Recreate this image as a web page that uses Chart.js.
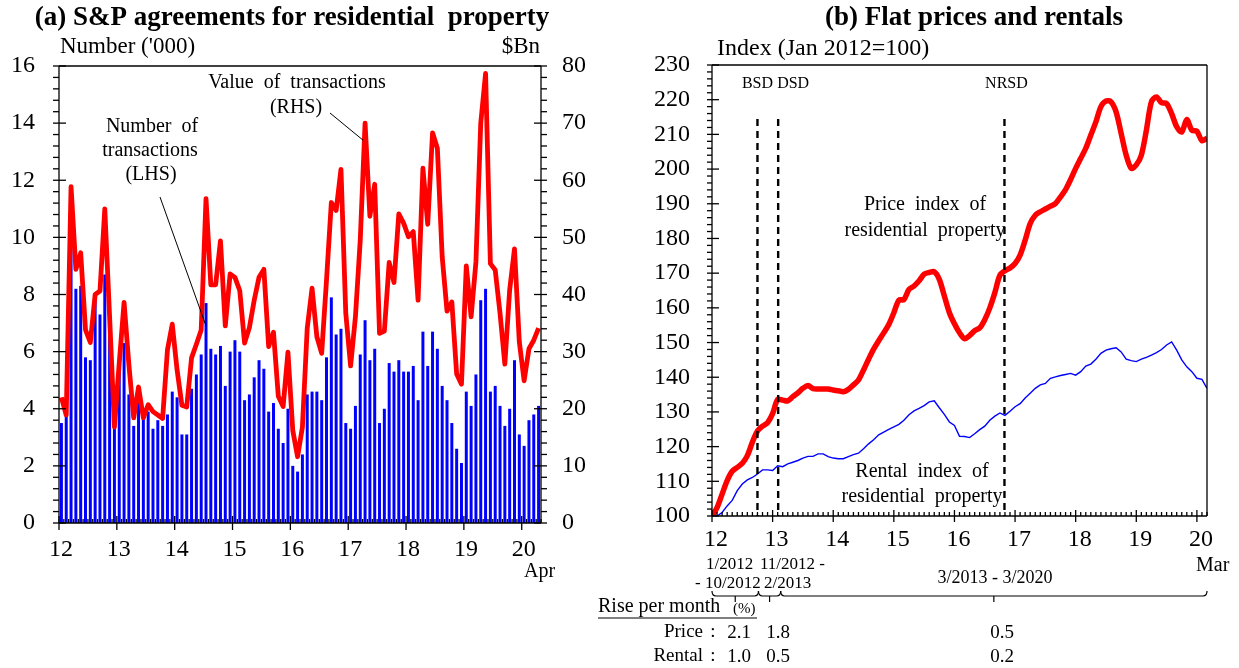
<!DOCTYPE html>
<html>
<head>
<meta charset="utf-8">
<title>S&amp;P agreements, flat prices and rentals</title>
<script src="https://cdn.jsdelivr.net/npm/chart.js@4.4.1/dist/chart.umd.min.js"></script>
<style>
  body { margin: 0; background: #fff; }
  #wrap { position: relative; width: 1239px; height: 668px; overflow: hidden; }
  canvas { position: absolute; top: 0; }
  #panelA { left: 0; }
  #panelB { left: 590px; }
</style>
</head>
<body>
<div id="wrap">
  <canvas id="panelA" width="620" height="668"></canvas>
  <canvas id="panelB" width="649" height="668"></canvas>
</div>
<script>
const serif = '"Liberation Serif", "Times New Roman", serif';

// (a) monthly, Jan 2012 - Apr 2020
const yearLabels = ["12", "13", "14", "15", "16", "17", "18", "19", "20"];
// number of transactions ('000, LHS)
const numberOfTransactions = [
  3.5, 3.8, 9.9, 8.2, 8.3, 5.8, 5.7, 8.0, 7.3, 8.7,
  7.0, 3.3, 5.5, 6.3, 4.5, 3.4, 4.2, 4.0, 3.9, 3.3,
  3.6, 3.4, 3.8, 4.6, 4.4, 3.1, 3.1, 4.7, 5.2, 5.9,
  7.7, 6.1, 5.9, 6.2, 4.8, 6.0, 6.4, 6.0, 4.3, 4.5,
  5.1, 5.7, 5.4, 3.9, 4.2, 3.3, 2.8, 4.0, 2.0, 1.8,
  2.4, 4.5, 4.6, 4.6, 4.3, 5.8, 7.9, 6.6, 6.8, 3.5,
  3.3, 4.1, 5.9, 7.1, 5.7, 6.1, 3.5, 4.0, 5.6, 5.3,
  5.7, 5.3, 5.3, 5.5, 4.3, 6.7, 5.5, 6.7, 6.1, 4.8,
  4.3, 3.5, 2.6, 2.1, 4.6, 4.1, 5.2, 7.8, 8.2, 4.6,
  4.8, 4.1, 3.4, 4.0, 5.7, 3.1, 2.7, 3.6, 3.8, 4.1
];
// value of transactions ($Bn, RHS)
const valueOfTransactions = [
  22.0, 18.9, 58.9, 44.4, 47.3, 33.8, 31.6, 40.0, 40.6, 55.0,
  36.1, 16.8, 28.0, 38.6, 27.7, 18.4, 23.8, 18.4, 20.7, 19.5,
  18.9, 18.3, 30.3, 34.8, 26.8, 20.6, 20.3, 28.9, 31.3, 33.8,
  56.8, 41.7, 41.7, 49.4, 34.5, 43.6, 43.0, 40.7, 31.5, 34.2,
  39.0, 43.0, 44.4, 30.9, 33.4, 22.2, 20.4, 29.9, 16.2, 11.6,
  16.8, 34.1, 41.1, 32.6, 29.7, 42.5, 56.1, 54.7, 61.9, 36.7,
  27.5, 36.1, 49.5, 70.0, 53.7, 59.3, 33.2, 33.6, 45.6, 42.1,
  54.1, 52.5, 50.1, 51.0, 39.0, 62.1, 52.3, 68.3, 65.6, 46.6,
  37.1, 38.7, 26.1, 24.3, 45.0, 36.1, 45.7, 70.0, 78.7, 45.4,
  44.3, 36.7, 27.8, 40.8, 48.0, 31.7, 24.9, 30.5, 32.0, 34.1
];

// (b) monthly, Jan 2012 - Mar 2020 (Jan 2012 = 100)
const priceIndex = [
  100.0, 102.4, 106.3, 110.2, 112.9, 114.0, 115.2, 117.4, 121.3, 124.5,
  125.9, 126.9, 129.5, 133.6, 133.4, 133.2, 134.4, 135.5, 136.8, 137.6,
  136.7, 136.6, 136.6, 136.6, 136.3, 136.1, 135.8, 136.5, 137.8, 139.2,
  142.1, 145.2, 148.1, 150.5, 152.8, 155.2, 158.6, 162.2, 162.4, 165.3,
  166.3, 167.8, 169.7, 170.2, 170.4, 168.2, 163.4, 158.6, 155.4, 152.8,
  151.1, 152.0, 153.4, 154.2, 156.6, 160.0, 164.4, 169.4, 170.7, 171.5,
  172.8, 175.2, 179.5, 184.3, 186.7, 187.7, 188.5, 189.3, 190.1, 192.0,
  194.1, 197.0, 200.2, 203.1, 206.0, 209.8, 213.6, 218.0, 219.6, 219.4,
  216.5, 210.3, 204.0, 200.2, 201.2, 204.0, 211.2, 219.4, 220.8, 219.1,
  218.9, 216.0, 212.2, 210.7, 214.3, 211.2, 210.9, 208.2, 208.9
];
const rentalIndex = [
  100.0, 100.0, 101.0, 102.9, 104.5, 107.3, 109.2, 110.4, 111.1, 112.1,
  113.3, 113.3, 113.1, 114.5, 114.2, 115.0, 115.5, 116.0, 116.7, 117.2,
  117.2, 117.9, 117.9, 117.1, 116.7, 116.5, 116.5, 117.1, 117.7, 118.1,
  119.4, 120.8, 122.0, 123.4, 124.2, 125.0, 125.7, 126.4, 127.6, 129.2,
  130.3, 131.0, 131.8, 132.9, 133.2, 131.2, 129.3, 127.1, 126.1, 123.0,
  122.9, 122.6, 123.7, 124.9, 125.9, 127.6, 128.8, 129.7, 129.0, 130.2,
  131.5, 132.4, 134.0, 135.4, 136.8, 137.8, 138.2, 139.7, 140.1, 140.5,
  140.8, 141.1, 140.6, 141.6, 143.2, 143.8, 145.2, 146.9, 147.8, 148.2,
  148.5, 147.3, 145.2, 144.8, 144.5, 145.2, 145.7, 146.4, 147.1, 148.0,
  149.3, 150.2, 147.8, 145.0, 143.0, 141.6, 139.7, 139.4, 136.8
];

// stamp duty measures, month index counted from Jan 2012
const measureNames = ["BSD", "DSD", "NRSD"];
const measureMonths = [9, 13.1, 57.9];

// rise per month (%)
const periodBounds = [0, 9.2, 13.6, 98];
const priceRise = ["2.1", "1.8", "0.5"];
const rentalRise = ["1.0", "0.5", "0.2"];

const tickFont = { family: serif, size: 24 };

const text = (ctx, str, x, y, size, align = "center", bold = false) => {
  ctx.save();
  ctx.font = (bold ? "bold " : "") + size + "px " + serif;
  ctx.fillStyle = "#000";
  ctx.textAlign = align;
  ctx.textBaseline = "middle";
  ctx.fillText(str, x, y);
  ctx.restore();
};

const seg = (ctx, x1, y1, x2, y2, width = 1.3) => {
  ctx.beginPath();
  ctx.lineWidth = width;
  ctx.strokeStyle = "#000";
  ctx.moveTo(x1, y1);
  ctx.lineTo(x2, y2);
  ctx.stroke();
};

const brace = (ctx, x1, x2, y) => {
  let mid = (x1 + x2) / 2;
  ctx.beginPath();
  ctx.lineWidth = 1.2;
  ctx.strokeStyle = "#000";
  ctx.moveTo(x1, y - 5);
  ctx.quadraticCurveTo(x1, y, x1 + 4, y);
  ctx.lineTo(x2 - 4, y);
  ctx.quadraticCurveTo(x2, y, x2, y - 5);
  ctx.moveTo(mid, y);
  ctx.lineTo(mid, y + 6);
  ctx.stroke();
};

const frame = (ctx, a) => {
  seg(ctx, a.left, a.top, a.right, a.top);
  seg(ctx, a.left, a.top, a.left, a.bottom);
  seg(ctx, a.right, a.top, a.right, a.bottom);
  seg(ctx, a.left, a.bottom, a.right, a.bottom, 1.6);
};

// (a) frame, ticks and labels
const panelADecor = {
  id: "panelADecor",
  afterDatasetsDraw(chart) {
    const { ctx, chartArea: a } = chart;
    const { x, y, y1 } = chart.scales;
    ctx.save();
    frame(ctx, a);
    for (let i = 0; i <= 40; i++) {
      let py = y.getPixelForValue(i * 0.4);
      seg(ctx, a.left - 6, py, i % 5 === 0 ? a.left + 7 : a.left, py);
    }
    for (let i = 0; i <= 40; i++) {
      let py = y1.getPixelForValue(i * 2);
      seg(ctx, i % 5 === 0 ? a.right - 7 : a.right, py, a.right + 6, py);
    }
    for (let k = 0; k <= numberOfTransactions.length; k++) {
      let px = x.getPixelForValue(k - 0.5);
      if (k % 12 === 0) seg(ctx, px, a.bottom - 7, px, a.bottom + 7);
      else seg(ctx, px, a.bottom - 4, px, a.bottom);
    }

    text(ctx, "(a) S&P agreements for residential  property", 292, 18, 27, "center", true);
    text(ctx, "Number ('000)", 60, 47, 23, "left");
    text(ctx, "$Bn", 540, 47, 23, "right");
    text(ctx, "Apr", 524, 572, 20, "left");

    text(ctx, "Value  of  transactions", 297, 83, 20);
    text(ctx, "(RHS)", 296, 108, 20);
    seg(ctx, 330, 113, x.getPixelForValue(62.6), y1.getPixelForValue(67), 1);

    text(ctx, "Number  of", 152, 127, 20);
    text(ctx, "transactions", 150, 151, 20);
    text(ctx, "(LHS)", 151, 175, 20);
    seg(ctx, 160, 197, x.getPixelForValue(30), y.getPixelForValue(6.9), 1);
    ctx.restore();
  }
};

// (b) frame, ticks, measures and the rise-per-month table
const panelBDecor = {
  id: "panelBDecor",
  afterDatasetsDraw(chart) {
    const { ctx, chartArea: a } = chart;
    const { x, y } = chart.scales;
    const ox = 590;
    ctx.save();
    frame(ctx, a);
    for (let i = 0; i <= 65; i++) {
      let py = y.getPixelForValue(100 + i * 2);
      seg(ctx, a.left - 5, py, i % 5 === 0 ? a.left + 7 : a.left, py);
    }
    for (let k = 0; k <= 98; k++) {
      let px = x.getPixelForValue(k);
      if (k % 12 === 0) seg(ctx, px, a.bottom - 6, px, a.bottom + 6);
      else seg(ctx, px, a.bottom - 4, px, a.bottom);
    }

    // dashed lines for BSD / DSD / NRSD
    ctx.save();
    ctx.setLineDash([7, 5]);
    measureMonths.forEach((m) => {
      let px = x.getPixelForValue(m);
      seg(ctx, px, 119, px, a.bottom, 2.4);
    });
    ctx.restore();
    text(ctx, measureNames[0], x.getPixelForValue(measureMonths[0]), 84, 16, "center");
    text(ctx, measureNames[1], x.getPixelForValue(measureMonths[1]) - 1, 84, 16, "left");
    text(ctx, measureNames[2], x.getPixelForValue(measureMonths[2]) + 2, 84, 16, "center");

    text(ctx, "(b) Flat prices and rentals", 974 - ox, 18, 27, "center", true);
    text(ctx, "Index (Jan 2012=100)", 717 - ox, 49, 24, "left");

    text(ctx, "Price  index  of", 925 - ox, 205, 20);
    text(ctx, "residential  property", 925 - ox, 231, 20);
    text(ctx, "Rental  index  of", 922 - ox, 472, 20);
    text(ctx, "residential  property", 922 - ox, 497, 20);

    // periods
    text(ctx, "1/2012", 706 - ox, 565, 17, "left");
    text(ctx, "11/2012 -", 760 - ox, 565, 17, "left");
    text(ctx, "- 10/2012", 695 - ox, 584, 17, "left");
    text(ctx, "2/2013", 764 - ox, 584, 17, "left");
    text(ctx, "3/2013 - 3/2020", 995 - ox, 578, 18, "center");
    text(ctx, "Mar", 1196 - ox, 566, 20, "left");
    for (let i = 0; i < 3; i++) {
      brace(ctx, x.getPixelForValue(periodBounds[i]), x.getPixelForValue(periodBounds[i + 1]), 596);
    }

    text(ctx, "Rise per month", 598 - ox, 607, 20, "left");
    text(ctx, "(%)", 733 - ox, 609, 15, "left");
    seg(ctx, 598 - ox, 618, 757 - ox, 618, 1);

    const cols = [739, 778, 1002];
    text(ctx, "Price", 703 - ox, 632, 19, "right");
    text(ctx, ":", 713 - ox, 632, 19, "center");
    text(ctx, "Rental", 703 - ox, 656, 19, "right");
    text(ctx, ":", 713 - ox, 656, 19, "center");
    cols.forEach((c, i) => {
      text(ctx, priceRise[i], c - ox, 633, 19);
      text(ctx, rentalRise[i], c - ox, 657, 19);
    });
    ctx.restore();
  }
};

const noGrid = { display: false, drawTicks: false, tickLength: 0 };

new Chart(document.getElementById("panelA"), {
  type: "bar",
  data: {
    datasets: [
      {
        type: "line",
        label: "Value of transactions (RHS)",
        data: valueOfTransactions.map((v, i) => ({ x: i, y: v })),
        yAxisID: "y1",
        borderColor: "#ff0000",
        borderWidth: 4.8,
        borderJoinStyle: "round",
        pointRadius: 0,
        tension: 0,
        order: 0,
      },
      {
        type: "bar",
        label: "Number of transactions (LHS)",
        data: numberOfTransactions.map((v, i) => ({ x: i, y: v })),
        yAxisID: "y",
        backgroundColor: "#0000ff",
        barPercentage: 0.62,
        categoryPercentage: 1,
        order: 1,
      },
    ],
  },
  options: {
    responsive: false,
    animation: false,
    events: [],
    layout: { padding: { left: 0, right: 0, top: 66, bottom: 100 } },
    plugins: { legend: { display: false }, tooltip: { enabled: false } },
    scales: {
      x: {
        type: "linear",
        offset: false,
        min: -0.5,
        max: 99.5,
        grid: noGrid,
        border: { display: false },
        afterBuildTicks: (s) => {
          s.ticks = yearLabels.map((_, i) => ({ value: i * 12 - 0.5 }));
        },
        afterFit: (s) => { s.height = 45; },
        ticks: {
          autoSkip: false,
          maxRotation: 0,
          padding: 12,
          labelOffset: 2,
          color: "#000",
          font: tickFont,
          callback: (v, i) => yearLabels[i],
        },
      },
      y: {
        position: "left",
        min: 0,
        max: 16,
        grid: noGrid,
        border: { display: false },
        afterFit: (s) => { s.width = 59; },
        ticks: { stepSize: 2, padding: 24, color: "#000", font: tickFont },
      },
      y1: {
        position: "right",
        min: 0,
        max: 80,
        grid: noGrid,
        border: { display: false },
        afterFit: (s) => { s.width = 79; },
        ticks: { stepSize: 10, padding: 21, color: "#000", font: tickFont },
      },
    },
  },
  plugins: [panelADecor],
});

new Chart(document.getElementById("panelB"), {
  type: "line",
  data: {
    datasets: [
      {
        label: "Price index of residential property",
        data: priceIndex.map((v, i) => ({ x: i, y: v })),
        borderColor: "#ff0000",
        borderWidth: 5.5,
        borderJoinStyle: "round",
        pointRadius: 0,
        tension: 0.3,
      },
      {
        label: "Rental index of residential property",
        data: rentalIndex.map((v, i) => ({ x: i, y: v })),
        borderColor: "#0000ff",
        borderWidth: 1.4,
        pointRadius: 0,
        tension: 0,
      },
    ],
  },
  options: {
    responsive: false,
    animation: false,
    events: [],
    layout: { padding: { left: 0, right: 32, top: 65, bottom: 112 } },
    plugins: { legend: { display: false }, tooltip: { enabled: false } },
    scales: {
      x: {
        type: "linear",
        offset: false,
        min: 0,
        max: 98,
        grid: noGrid,
        border: { display: false },
        afterBuildTicks: (s) => {
          s.ticks = yearLabels.map((_, i) => ({ value: i * 12 }));
        },
        afterFit: (s) => { s.height = 40; },
        ticks: {
          autoSkip: false,
          maxRotation: 0,
          padding: 9,
          labelOffset: 4,
          color: "#000",
          font: tickFont,
          callback: (v, i) => yearLabels[i],
        },
      },
      y: {
        min: 100,
        max: 230,
        grid: noGrid,
        border: { display: false },
        afterFit: (s) => { s.width = 122; },
        ticks: { stepSize: 10, padding: 22, color: "#000", font: tickFont },
      },
    },
  },
  plugins: [panelBDecor],
});
</script>
</body>
</html>
